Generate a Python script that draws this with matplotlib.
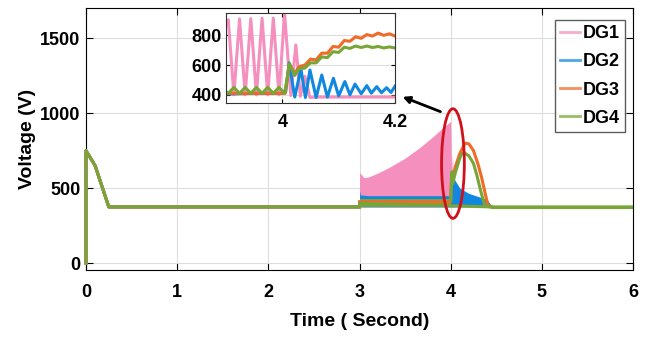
import numpy as np
import matplotlib.pyplot as plt
from matplotlib.patches import Ellipse
from matplotlib.lines import Line2D

plt.rcParams['font.family'] = ['Liberation Sans', 'DejaVu Sans']
plt.rcParams['font.weight'] = 'bold'

# colours of the four generators
c_dg1 = '#F58FBE'
c_dg2 = '#1188E0'
c_dg3 = '#F06A28'
c_dg4 = '#78A636'
names = ['DG1', 'DG2', 'DG3', 'DG4']

# ---- main plot data ----
# start-up transient + steady baseline shared by all DGs
start_t = [0.0, 0.0, 0.1, 0.19, 0.25, 3.0]
start_v = [0, 750, 650, 485, 375, 375]
end_t = [4.45, 6.0]
end_v = [375, 375]

# DG1 fast oscillation band 3..4 s (upper envelope)
dg1_band_t = [3.0, 3.05, 3.1, 3.2, 3.33, 3.5, 3.66, 3.8, 3.9, 4.0, 4.01, 4.02, 4.03, 4.05]
dg1_band_hi = [605, 570, 575, 600, 640, 700, 770, 840, 895, 945, 600, 735, 450, 385]

# DG2 band
dg2_band_t = [3.0, 3.01, 3.1, 3.5, 4.0, 4.01, 4.03, 4.06, 4.1, 4.2, 4.3, 4.4, 4.45]
dg2_band_hi = [485, 455, 450, 450, 450, 615, 570, 540, 500, 465, 445, 425, 380]

# DG3 arc after the event
dg3_t = [3.0, 4.0, 4.012, 4.022, 4.05, 4.1, 4.157, 4.2, 4.25, 4.3, 4.34, 4.38, 4.41, 4.45]
dg3_v = [410, 410, 600, 550, 640, 730, 800, 795, 750, 660, 570, 460, 385, 375]

# DG4 band 3..4 s and arc after
dg4_band_t = [3.0, 4.0]
dg4_band_hi = [430, 430]
dg4_t = [4.0, 4.013, 4.022, 4.05, 4.08, 4.1, 4.12, 4.15, 4.2, 4.25, 4.29, 4.33, 4.376, 4.45]
dg4_v = [420, 610, 530, 600, 660, 700, 728, 735, 715, 665, 580, 480, 380, 375]

# ---- inset data (zoom 3.9 .. 4.2 s) ----
in_dg1_t = [3.9, 3.904, 3.914, 3.924, 3.934, 3.944, 3.954, 3.964, 3.974, 3.984, 3.994,
            4.004, 4.015, 4.024, 4.032, 4.040, 4.049, 4.06, 4.2]
in_dg1_v = [870, 905, 400, 910, 400, 912, 400, 915, 400, 915, 400,
            945, 395, 735, 390, 525, 382, 385, 385]

in_dg2_t = [3.9, 3.95, 4.0, 4.006, 4.012, 4.022, 4.033, 4.041, 4.049, 4.060, 4.070, 4.080,
            4.0906, 4.100, 4.111, 4.120, 4.129, 4.140, 4.150, 4.158, 4.1676, 4.176,
            4.185, 4.193, 4.2]
in_dg2_v = [405, 410, 410, 420, 615, 385, 575, 382, 567, 382, 533, 385,
            511, 393, 489, 400, 472, 407, 462, 411, 455, 414,
            448, 416, 458]

in_dg3_t = [3.9, 4.0, 4.005, 4.012, 4.022, 4.03, 4.04, 4.05, 4.06, 4.07, 4.08, 4.09,
            4.10, 4.11, 4.12, 4.13, 4.14, 4.15, 4.16, 4.17, 4.18, 4.19, 4.20]
in_dg3_v = [410, 410, 410, 600, 545, 590, 600, 640, 635, 680, 680, 725,
            720, 765, 760, 790, 780, 805, 795, 815, 800, 810, 795]

in_dg4_t = [3.9, 3.904, 3.914, 3.924, 3.934, 3.944, 3.954, 3.964, 3.974, 3.984, 3.994,
            4.004, 4.013, 4.022, 4.03, 4.04, 4.05, 4.06, 4.07, 4.08, 4.09, 4.10,
            4.11, 4.12, 4.13, 4.14, 4.15, 4.16, 4.17, 4.18, 4.19, 4.20]
in_dg4_v = [420, 410, 450, 410, 450, 410, 450, 410, 450, 410, 450,
            410, 610, 530, 575, 580, 615, 615, 655, 650, 690, 685,
            720, 712, 728, 718, 728, 718, 725, 715, 722, 715]

fig = plt.figure(figsize=(6.53, 3.41), dpi=100)
ax = fig.add_axes([86 / 653, 71 / 341, 547 / 653, 262 / 341])

lw = 2.2
base = 375
# DG1
ax.plot(start_t, start_v, color=c_dg1, lw=lw, clip_on=False, zorder=3)
ax.plot(end_t, end_v, color=c_dg1, lw=lw)
ax.fill_between(dg1_band_t, base, dg1_band_hi, color=c_dg1, lw=0)
# DG2
ax.plot(start_t, start_v, color=c_dg2, lw=lw, clip_on=False, zorder=3)
ax.fill_between(dg2_band_t, base, dg2_band_hi, color=c_dg2, lw=0)
# DG3
ax.plot(start_t, start_v, color=c_dg3, lw=lw, clip_on=False, zorder=3)
ax.plot(dg3_t, dg3_v, color=c_dg3, lw=lw)
# DG4
ax.plot(start_t, start_v, color=c_dg4, lw=lw, clip_on=False, zorder=3)
ax.fill_between(dg4_band_t, base, dg4_band_hi, color=c_dg4, lw=0)
ax.plot(dg4_t, dg4_v, color=c_dg4, lw=lw)
ax.plot([3.0, 3.0] + end_t, [base, 400, base, base], color=c_dg4, lw=lw)
ax.plot(end_t, end_v, color=c_dg4, lw=lw)

ax.set_xlim(0, 6)
ax.set_ylim(-45, 1700)
ax.set_xticks([0, 1, 2, 3, 4, 5, 6])
ax.set_yticks([0, 500, 1000, 1500])
ax.grid(True, color='#DDDDDD', lw=0.8)
ax.set_axisbelow(True)
ax.tick_params(direction='in', top=True, right=True, length=5, labelsize=13)
ax.tick_params(axis='x', pad=10)
ax.tick_params(axis='y', pad=4)
ax.set_xlabel('Time ( Second)', fontsize=14, fontweight='bold', labelpad=9)
ax.set_ylabel('Voltage (V)', fontsize=14, fontweight='bold', labelpad=3)

# red ellipse and arrow towards the zoom
ax.add_patch(Ellipse((4.025, 664), 0.25, 730, fill=False, edgecolor='#D0101A', lw=2, zorder=5))
ax.annotate('', xy=(3.444, 1115), xytext=(3.916, 1003),
            arrowprops=dict(arrowstyle='-|>', color='black', lw=2, mutation_scale=10), zorder=6)

handles = [Line2D([], [], color=c, lw=2, alpha=0.75) for c in (c_dg1, c_dg2, c_dg3, c_dg4)]
leg = ax.legend(handles, names, loc='upper right', bbox_to_anchor=(0.986, 0.955),
                fontsize=13, frameon=True, fancybox=False, handlelength=1.1,
                handletextpad=0.15, borderpad=0.3, labelspacing=0.62, borderaxespad=0)
leg.get_frame().set_edgecolor('#333333')
leg.get_frame().set_linewidth(1)

# inset
ins = fig.add_axes([226 / 653, 238 / 341, 169 / 653, 90 / 341])
ins.plot(in_dg1_t, in_dg1_v, color=c_dg1, lw=2.2)
ins.plot(in_dg2_t, in_dg2_v, color=c_dg2, lw=2.2)
ins.plot(in_dg3_t, in_dg3_v, color=c_dg3, lw=2.2)
ins.plot(in_dg4_t, in_dg4_v, color=c_dg4, lw=2.2)
ins.set_xlim(3.9, 4.2)
ins.set_ylim(345, 950)
ins.set_xticks([4, 4.2])
ins.set_xticklabels(['4', '4.2'])
ins.set_yticks([400, 600, 800])
ins.grid(True, color='#DDDDDD', lw=0.8)
ins.tick_params(direction='in', top=True, right=True, length=3, labelsize=13)
ins.tick_params(axis='x', pad=8)
ins.tick_params(axis='y', pad=3)
for s in ins.spines.values():
    s.set_edgecolor('#333333')

fig.savefig('out.png', dpi=100)
